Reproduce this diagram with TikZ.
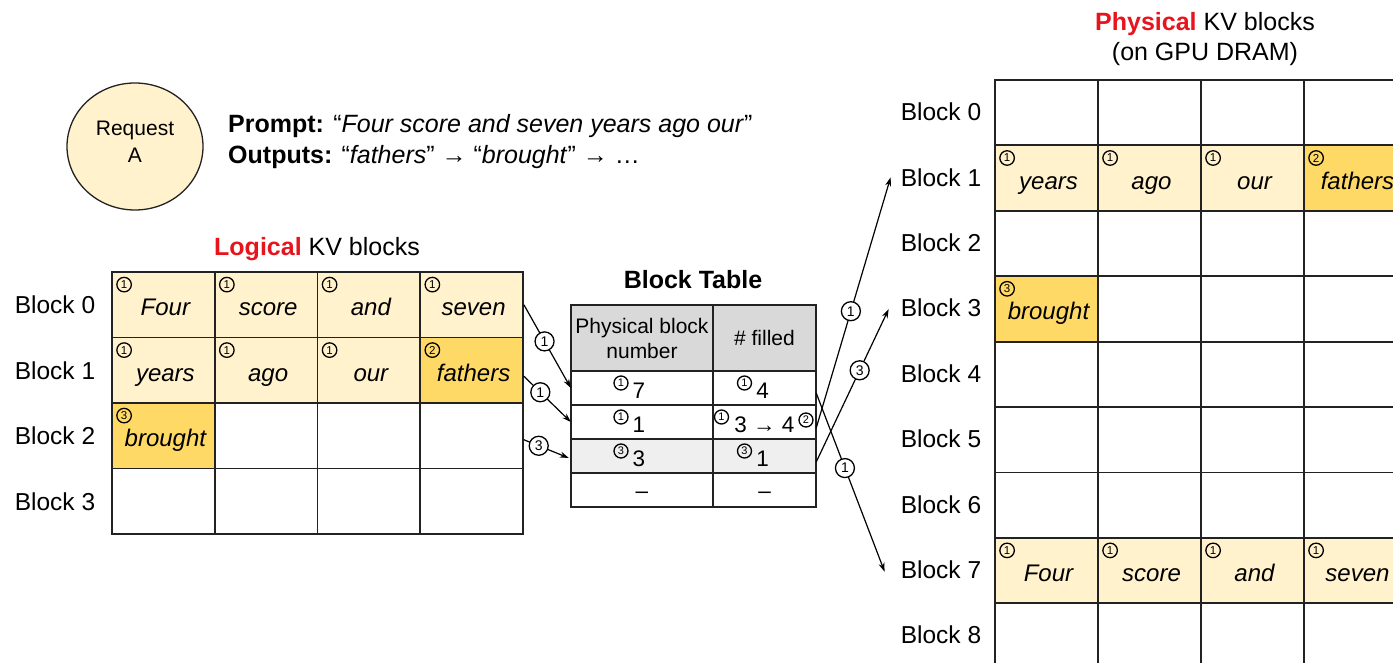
\documentclass[tikz,border=0pt]{standalone}
\usepackage{fontspec}
\setmainfont{Liberation Sans}
\usetikzlibrary{arrows.meta,calc,shapes.geometric}
\definecolor{lyel}{HTML}{FFF2CC}
\definecolor{dyel}{HTML}{FFD966}
\definecolor{gridc}{HTML}{222222}
\definecolor{hdrg}{HTML}{D9D9D9}
\definecolor{rowg}{HTML}{EFEFEF}
\definecolor{kvred}{HTML}{E8141C}
\newcommand\fs[2]{\fontsize{#1}{#2}\selectfont}
\newcommand\tok[3]{%
  \node[word] at ($(#1.center)+(2,11)$) {#3};
  \node[cnum] at ($(#1.north west)+(13,13.5)$) {#2};}
\begin{document}
\begin{tikzpicture}[x=1pt,y=-1pt,
  lcell/.style={line width=1.8pt, minimum width=102.75pt, minimum height=65.5pt, inner sep=0pt},
  pcell/.style={line width=1.8pt, minimum width=103pt, minimum height=65.4pt, inner sep=0pt},
  tcell/.style={inner sep=0pt},
  word/.style={font=\fs{24}{28}\itshape, inner sep=0pt, anchor=base},
  lbl/.style={font=\fs{24.5}{28}, inner sep=0pt, anchor=base},
  tdig/.style={font=\fs{22.5}{25}, inner sep=0pt, anchor=base},
  cnum/.style={circle, draw=black, line width=1.3pt, inner sep=0pt, minimum size=14.5pt, font=\fs{11.5}{11.5}},
  onl/.style={circle, draw=black, line width=1.3pt, inner sep=0pt, minimum size=19pt, font=\fs{14}{14}, fill=white},
  conn/.style={draw=black, line width=1.2pt, -{Stealth[length=9pt,width=6pt]}},
]
\useasboundingbox (0,0) rectangle (1393,663);

% Request
\node[ellipse, draw=gridc, line width=1.3pt, fill=lyel, minimum width=136pt, minimum height=127pt] (req) at (135,146.5) {};
\node[align=center, inner sep=0pt, font=\fs{21}{27}] (reqtxt) at ($(req.center)+(0,-5)$) {Request\\A};
\node[anchor=base west, inner sep=0pt, font=\fs{25}{30}] (prompt) at (228,133)
  {\textbf{Prompt:} “\textit{Four score and seven years ago our}”};
\node[anchor=base west, inner sep=0pt, font=\fs{25}{30}] (outs) at (228,164)
  {\textbf{Outputs:} “\textit{fathers}” → “\textit{brought}” → …};

% Logical KV blocks
\node[anchor=base, inner sep=0pt, font=\fs{25}{30}] (ltitle) at (317,256)
  {\textbf{\color{kvred}Logical} KV blocks};
\foreach \r/\c/\f in {0/0/lyel,0/1/lyel,0/2/lyel,0/3/lyel,
                      1/0/lyel,1/1/lyel,1/2/lyel,1/3/dyel,
                      2/0/dyel,2/1/white,2/2/white,2/3/white,
                      3/0/white,3/1/white,3/2/white,3/3/white}
  \node[lcell, fill=\f] (L-\r-\c) at ({112+102.75*(\c+0.5)},{272+65.5*(\r+0.5)}) {};
\foreach \r in {0,...,3} \foreach \c in {0,...,3}
  \node[lcell, draw=gridc] at (L-\r-\c.center) {};
\foreach \r in {0,...,3}
  \node[lbl] (LL\r) at (55,{272+65.5*(\r+0.5)+9}) {Block \r};
\tok{L-0-0}{1}{Four}
\tok{L-0-1}{1}{score}
\tok{L-0-2}{1}{and}
\tok{L-0-3}{1}{seven}
\tok{L-1-0}{1}{years}
\tok{L-1-1}{1}{ago}
\tok{L-1-2}{1}{our}
\tok{L-1-3}{2}{fathers}
\tok{L-2-0}{3}{brought}

% Block table
\node[anchor=base, inner sep=0pt, font=\bfseries\fs{25}{30}] (ttitle) at (693,288) {Block Table};
\node[tcell, fill=hdrg, minimum width=142pt, minimum height=66pt] (T-0-1) at (642,338) {};
\node[tcell, fill=hdrg, minimum width=103pt, minimum height=66pt] (T-0-2) at (764.5,338) {};
\foreach \r/\f in {1/white,2/white,3/rowg,4/white} {
  \node[tcell, fill=\f, minimum width=142pt, minimum height=34pt] (T-\r-1) at (642,{371+34*(\r-0.5)}) {};
  \node[tcell, fill=\f, minimum width=103pt, minimum height=34pt] (T-\r-2) at (764.5,{371+34*(\r-0.5)}) {};
}
\foreach \r in {0,...,4} \foreach \c in {1,2}
  \draw[draw=gridc, line width=1.8pt] (T-\r-\c.north west) rectangle (T-\r-\c.south east);
\node[align=center, inner sep=0pt, font=\fs{21}{25}] at (T-0-1.center) {Physical block\\number};
\node[inner sep=0pt, font=\fs{21}{25}] at (T-0-2.center) {\# filled};
% row 1
\node[cnum, minimum size=14pt, font=\fs{11}{11}] at ($(T-1-1.center)+(-21,-5)$) {1};
\node[tdig] at ($(T-1-1.center)+(-3,10.5)$) {7};
\node[cnum, minimum size=14pt, font=\fs{11}{11}] at ($(T-1-2.center)+(-20,-5)$) {1};
\node[tdig] at ($(T-1-2.center)+(-2,10.5)$) {4};
% row 2
\node[cnum, minimum size=14pt, font=\fs{11}{11}] at ($(T-2-1.center)+(-21,-5)$) {1};
\node[tdig] at ($(T-2-1.center)+(-3,10.5)$) {1};
\node[cnum, minimum size=14pt, font=\fs{11}{11}] at ($(T-2-2.center)+(-43,-5)$) {1};
\node[tdig] at ($(T-2-2.center)+(0,10.5)$) {3 → 4};
\node[cnum, minimum size=14pt, font=\fs{11}{11}] at ($(T-2-2.center)+(41.5,-2)$) {2};
% row 3
\node[cnum, minimum size=14pt, font=\fs{11}{11}] at ($(T-3-1.center)+(-21,-5)$) {3};
\node[tdig] at ($(T-3-1.center)+(-3,10.5)$) {3};
\node[cnum, minimum size=14pt, font=\fs{11}{11}] at ($(T-3-2.center)+(-20,-5)$) {3};
\node[tdig] at ($(T-3-2.center)+(-2,10.5)$) {1};
% row 4
\node[tdig] at ($(T-4-1.center)+(0,8)$) {–};
\node[tdig] at ($(T-4-2.center)+(0,8)$) {–};

% Physical KV blocks
\node[anchor=base, inner sep=0pt, font=\fs{25}{30}] (ptitle) at (1205,30.5)
  {\textbf{\color{kvred}Physical} KV blocks};
\node[anchor=base, inner sep=0pt, font=\fs{25}{30}] (ptitle2) at (1205,60.5) {(on GPU DRAM)};
\begin{scope}
\clip (0,0) rectangle (1393,663);
\foreach \r in {0,...,8} \foreach \c in {0,...,3}
  \node[pcell, fill=white] (P-\r-\c) at ({995+103*(\c+0.5)},{80+65.4*(\r+0.5)}) {};
\foreach \r/\c/\f in {1/0/lyel,1/1/lyel,1/2/lyel,1/3/dyel,3/0/dyel,7/0/lyel,7/1/lyel,7/2/lyel,7/3/lyel}
  \node[pcell, fill=\f] at (P-\r-\c.center) {};
\foreach \r in {0,...,8} \foreach \c in {0,...,3}
  \node[pcell, draw=gridc] at (P-\r-\c.center) {};
\tok{P-1-0}{1}{years}
\tok{P-1-1}{1}{ago}
\tok{P-1-2}{1}{our}
\tok{P-1-3}{2}{fathers}
\tok{P-3-0}{3}{brought}
\tok{P-7-0}{1}{Four}
\tok{P-7-1}{1}{score}
\tok{P-7-2}{1}{and}
\tok{P-7-3}{1}{seven}
\end{scope}
\foreach \r in {0,...,8}
  \node[lbl] (PL\r) at (941,{80+65.4*(\r+0.5)+8}) {Block \r};

% Connectors: logical -> table
\draw[conn] (L-0-3.east) -- node[onl, pos=0.44] {1} (T-1-1.west);
\draw[conn] ($(L-1-3.east)+(0,6)$) -- node[onl, pos=0.35] {1} (T-2-1.west);
\draw[conn] ($(L-2-3.east)+(0,4)$) -- node[onl, pos=0.33] {3} ($(T-3-1.west)+(-2,2)$);
% Connectors: table -> physical
\draw[conn] ($(T-2-2.east)+(0,6)$) -- node[onl, pos=0.466] {1} ($(PL1.west)+(-10,0)$);
\draw[conn] ($(T-3-2.east)+(0,6)$) -- node[onl, pos=0.6] {3} ($(PL3.west)+(-12,1)$);
\draw[conn] ($(T-1-2.east)+(0,5)$) -- node[onl, pos=0.42] {1} ($(PL7.west)+(-16,2)$);
\end{tikzpicture}
\end{document}
